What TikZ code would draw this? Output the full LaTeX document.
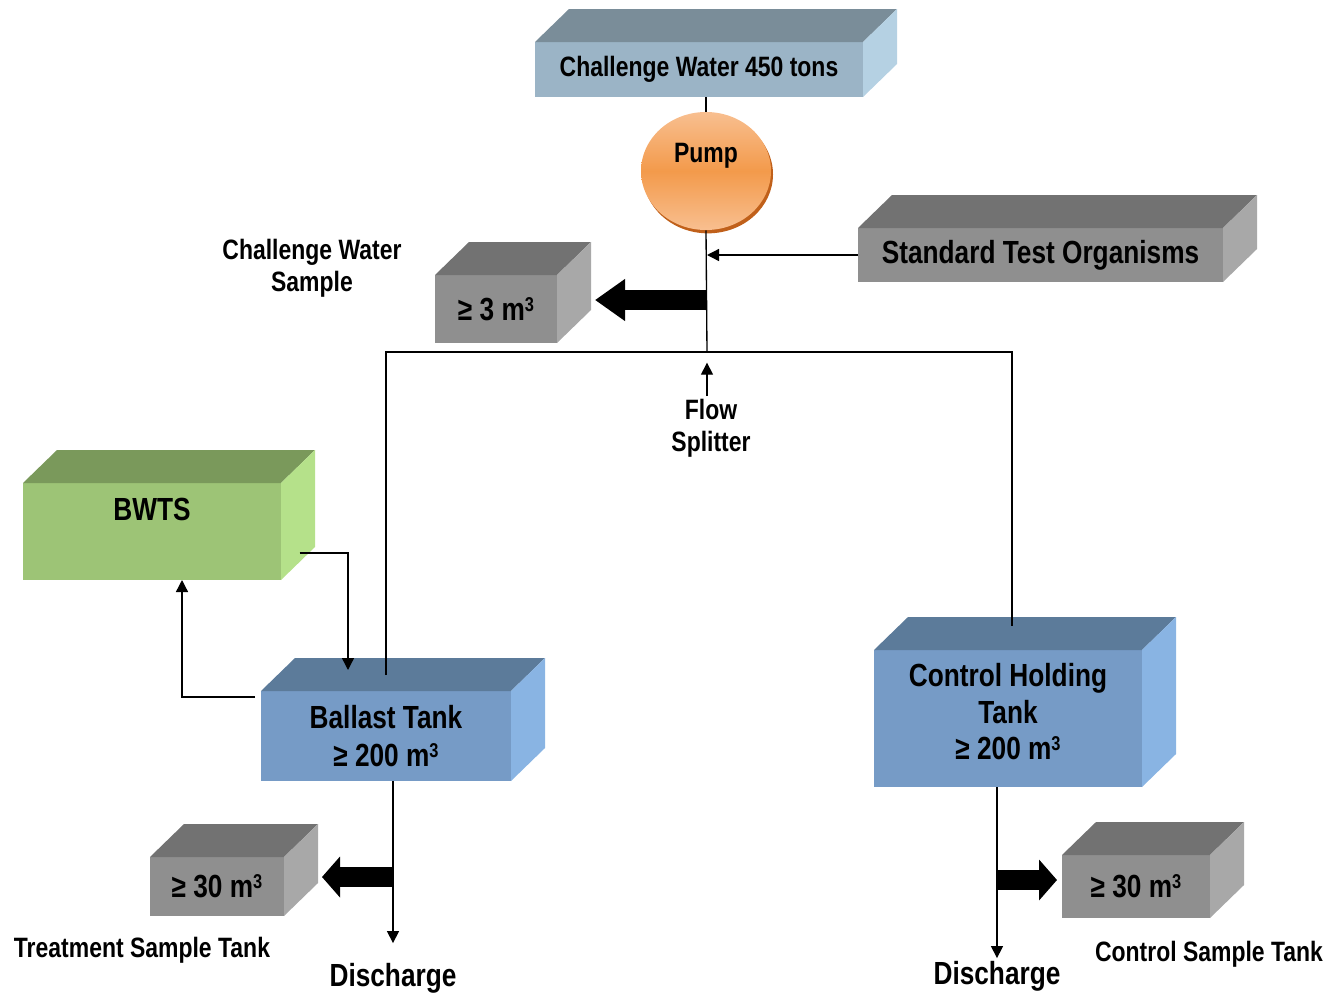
\documentclass[tikz,border=0pt]{standalone}
\usepackage{fontspec}
\setmainfont{Liberation Sans}[FakeStretch=0.82]
\usetikzlibrary{arrows.meta,calc,shapes.geometric,shadows}

\definecolor{waterfront}{HTML}{9BB4C6}
\definecolor{watertop}{HTML}{7A8D99}
\definecolor{waterside}{HTML}{B5D1E3}
\definecolor{grayfront}{HTML}{8F8F8F}
\definecolor{graytop}{HTML}{727272}
\definecolor{grayside}{HTML}{A8A8A8}
\definecolor{greenfront}{HTML}{9DC476}
\definecolor{greentop}{HTML}{7A995B}
\definecolor{greenside}{HTML}{B5E18A}
\definecolor{bluefront}{HTML}{769BC6}
\definecolor{bluetop}{HTML}{5C7B9A}
\definecolor{blueside}{HTML}{89B4E3}
\definecolor{pumplight}{HTML}{F8BF90}
\definecolor{pumpmid}{HTML}{F39A4B}
\definecolor{pumprim}{HTML}{C0601A}

\newcommand{\boxdepth}[3]{%
  \fill[#2] (#1.north west) -- ++(34,-33) -- ($(#1.north east)+(34,-33)$) -- (#1.north east) -- cycle;
  \fill[#3] (#1.north east) -- ++(34,-33) -- ($(#1.south east)+(34,-33)$) -- (#1.south east) -- cycle;
}
\newcommand{\mcube}{m\raisebox{7pt}{\fontsize{15}{15}\selectfont 3}}

\tikzset{
  front/.style={rectangle, inner sep=0pt, outer sep=0pt, align=center,
    font=\bfseries\fontsize{24}{28.5}\selectfont},
  lbl/.style={inner sep=2pt, align=center, font=\bfseries\fontsize{21}{24}\selectfont},
  pipe/.style={line width=1pt},
  pipearrow/.style={line width=1pt, -{Triangle[length=9pt,width=9pt]}},
  fatarrow/.style={line width=15pt, -{Triangle[length=#1,width=30pt]}},
  fatarrow/.default=13.5pt
}

\begin{document}
\begin{tikzpicture}[x=0.75pt,y=-0.75pt]
    \useasboundingbox (0,0) rectangle (1332,993);

    \node[front, fill=waterfront, minimum width=246pt, minimum height=41.25pt,
      font=\bfseries\fontsize{21}{24}\selectfont] (water) at (699,69.5) {Challenge Water 450 tons};
    \boxdepth{water}{watertop}{waterside}

    \node[ellipse, minimum width=97.5pt, minimum height=88.5pt, inner sep=0pt,
      top color=pumplight, bottom color=pumplight, middle color=pumpmid,
      drop shadow={shadow xshift=1.5pt, shadow yshift=-2.5pt, fill=pumprim, opacity=1},
      text height=15pt, text depth=28.5pt,
      font=\bfseries\fontsize{21}{24}\selectfont] (pump) at (706,171) {Pump};

    \node[front, fill=grayfront, minimum width=273.75pt, minimum height=40.5pt] (organisms) at (1040.5,255) {Standard Test Organisms};
    \boxdepth{organisms}{graytop}{grayside}

    \node[front, fill=grayfront, minimum width=91.5pt, minimum height=51pt] (small3) at (496,309) {≥ 3 \mcube};
    \boxdepth{small3}{graytop}{grayside}

    \node[front, fill=greenfront, minimum width=193.5pt, minimum height=72.75pt,
      text height=17pt, text depth=34pt] (bwts) at (152,531.5) {BWTS};
    \boxdepth{bwts}{greentop}{greenside}

    \node[front, fill=bluefront, minimum width=187.5pt, minimum height=67.5pt] (ballast) at (386,736) {Ballast Tank\\≥ 200 \mcube};
    \boxdepth{ballast}{bluetop}{blueside}

    \node[front, fill=bluefront, minimum width=201pt, minimum height=102.75pt,
      font=\bfseries\fontsize{24}{27.5}\selectfont] (control) at (1008,718.5) {Control Holding\\Tank\\≥ 200 \mcube\\[-17pt]};
    \boxdepth{control}{bluetop}{blueside}

    \node[front, fill=grayfront, minimum width=100.5pt, minimum height=44.25pt] (tank30l) at (217,886.5) {≥ 30 \mcube};
    \boxdepth{tank30l}{graytop}{grayside}

    \node[front, fill=grayfront, minimum width=111pt, minimum height=47.25pt] (tank30r) at (1136,886.5) {≥ 30 \mcube};
    \boxdepth{tank30r}{graytop}{grayside}

    \node[lbl] (cwsample) at (312,268) {Challenge Water\\Sample};
    \node[lbl] (flowsplit) at (711,428) {Flow\\Splitter};
    \node[lbl] (tsample) at (142,950) {Treatment Sample Tank};
    \node[lbl] (csample) at (1209,954) {Control Sample Tank};
    \node[lbl, font=\bfseries\fontsize{24}{28}\selectfont] (dis1) at (393,978) {Discharge};
    \node[lbl, font=\bfseries\fontsize{24}{28}\selectfont] (dis2) at (997,976) {Discharge};

    \coordinate (split) at (707,352);
    \coordinate (sample) at (707,300);
    \coordinate (fork1) at (393,877);
    \coordinate (fork2) at (997,880);

    \draw[pipe] (pump.north |- water.south) -- (pump.north);
    \draw[pipe] (pump.south) -- (split);
    \draw[pipearrow] (organisms.west) -- (organisms.west -| split);
    \draw[fatarrow=22.5pt] (sample) -- ($(small3.east |- sample)+(38,0)$);
    \draw[pipe] ([yshift=12pt]ballast.north) |- (split) -| ([xshift=3pt,yshift=18pt]control.north);
    \draw[pipearrow] (flowsplit.north -| split) -- ([yshift=-8pt]split);

    \draw[pipearrow] ([shift={(-4.5pt,-4.5pt)}]ballast.north west) -| ([xshift=22.5pt]bwts.south);
    \draw[pipearrow] ([shift={(14pt,-16pt)}]bwts.east) -| ([shift={(-28.5pt,15.75pt)}]ballast.north);

    \draw[pipearrow] (dis1.north |- ballast.south) -- ([yshift=12.75pt]dis1.north);
    \draw[fatarrow] (fork1) -- ($(tank30l.east |- fork1)+(38,0)$);

    \draw[pipearrow] (dis2.north |- control.south) -- (dis2.north);
    \draw[fatarrow] (fork2) -- ($(tank30r.west |- fork2)+(-5,0)$);
\end{tikzpicture}
\end{document}
